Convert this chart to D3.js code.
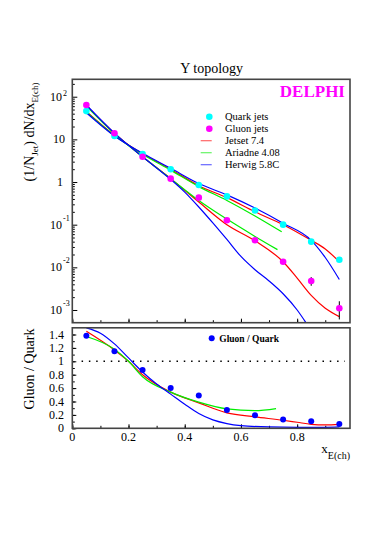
<!DOCTYPE html>
<html>
<head>
<meta charset="utf-8">
<script src="https://cdn.jsdelivr.net/npm/d3@7"></script>
<style>
body { margin: 0; background: #fff; }
text { font-family: "Liberation Serif", "Times New Roman", serif; fill: #000; }
</style>
</head>
<body>
<div id="chart"></div>
<script>
// measured points, bin centres in x_E(ch)
var xBins = [0.05, 0.15, 0.25, 0.35, 0.45, 0.55, 0.65, 0.75, 0.85, 0.95];
var quarkJets = [46, 12, 4.5, 2.0, 0.85, 0.46, 0.215, 0.1, 0.04, 0.015];
var gluonJets = [64, 13.9, 3.9, 1.2, 0.43, 0.127, 0.043, 0.0135, 0.0048, 0.0011];
var gluonErr = [0.5, 0.1, 0.04, 0.02, 0.01, 0.004, 0.002, 0.001, 0.0011, 0.0005];
var ratioGQ = [1.38, 1.15, 0.87, 0.6, 0.49, 0.275, 0.195, 0.13, 0.105, 0.065];

// model curves
var jetsetQuarkX = [0.05, 0.15, 0.25, 0.35, 0.45, 0.55, 0.65, 0.75, 0.85, 0.9, 0.95];
var jetsetQuarkY = [45, 12.5, 4.6, 2.0, 0.82, 0.43, 0.2, 0.1, 0.043, 0.027, 0.0135];
var ariadneQuarkX = [0.05, 0.15, 0.25, 0.35, 0.45, 0.55, 0.65, 0.745];
var ariadneQuarkY = [44, 12.3, 4.5, 1.9, 0.78, 0.37, 0.16, 0.068];
var herwigQuarkX = [0.05, 0.15, 0.25, 0.35, 0.45, 0.55, 0.65, 0.75, 0.85, 0.9, 0.95];
var herwigQuarkY = [42, 12, 4.7, 2.1, 0.92, 0.5, 0.245, 0.108, 0.043, 0.017, 0.0052];

var jetsetGluonX = [0.05, 0.15, 0.25, 0.35, 0.45, 0.55, 0.65, 0.75, 0.8, 0.85, 0.9, 0.95];
var jetsetGluonY = [62, 14, 3.9, 1.2, 0.34, 0.1, 0.042, 0.0135, 0.0056, 0.0022, 0.0011, 0.0007];
var ariadneGluonX = [0.05, 0.15, 0.25, 0.35, 0.45, 0.55, 0.65, 0.73];
var ariadneGluonY = [60, 13.5, 3.9, 1.2, 0.37, 0.135, 0.053, 0.026];
var herwigGluonX = [0.05, 0.15, 0.25, 0.35, 0.4, 0.45, 0.5, 0.55, 0.6, 0.65, 0.7, 0.75, 0.8, 0.83];
var herwigGluonY = [64, 14, 3.9, 1.15, 0.58, 0.26, 0.11, 0.045, 0.018, 0.0088, 0.0048, 0.0024, 0.001, 0.00052];

var jetsetRatioX = [0.05, 0.15, 0.2, 0.25, 0.35, 0.45, 0.55, 0.65, 0.75, 0.8, 0.85, 0.9, 0.95];
var jetsetRatioY = [1.45, 1.17, 1.0, 0.8, 0.54, 0.38, 0.23, 0.17, 0.12, 0.09, 0.06, 0.05, 0.06];
var ariadneRatioX = [0.05, 0.15, 0.2, 0.25, 0.35, 0.45, 0.55, 0.65, 0.725];
var ariadneRatioY = [1.37, 1.18, 1.0, 0.77, 0.54, 0.39, 0.29, 0.265, 0.295];
var herwigRatioX = [0.05, 0.1, 0.15, 0.2, 0.25, 0.3, 0.35, 0.4, 0.45, 0.5, 0.55, 0.6, 0.7, 0.8, 0.9, 0.95];
var herwigRatioY = [1.5, 1.42, 1.26, 1.05, 0.84, 0.66, 0.51, 0.36, 0.22, 0.125, 0.07, 0.04, 0.02, 0.015, 0.015, 0.02];

var xTicks = [0, 0.2, 0.4, 0.6, 0.8];
var ratioTicks = [0, 0.2, 0.4, 0.6, 0.8, 1, 1.2, 1.4];
var logDecades = [-3, -2, -1, 0, 1, 2];

var legendNames = ['Quark jets', 'Gluon jets', 'Jetset 7.4', 'Ariadne 4.08', 'Herwig 5.8C'];
var legendColors = ['#00ffff', '#ff00ff', '#ff0000', '#00ee00', '#0000ff'];

var width = 382, height = 544;
var left = 72.3, right = 350;
var topY0 = 79.3, topY1 = 322.7;
var botY0 = 327.8, botY1 = 428.3;

var svg = d3.select('#chart')
    .append('svg')
    .attr('width', width)
    .attr('height', height);

var x = d3.scaleLinear().domain([0, 0.988]).range([left, right]);
var yTop = d3.scaleLog().domain([Math.pow(10, -3.298), Math.pow(10, 2.408)]).range([topY1, topY0]);
var yBot = d3.scaleLinear().domain([0, 1.5]).range([botY1, botY0]);

// clip regions
var defs = svg.append('defs');
defs.append('clipPath').attr('id', 'clipTop').append('rect')
    .attr('x', left).attr('y', topY0).attr('width', right - left).attr('height', topY1 - topY0);
defs.append('clipPath').attr('id', 'clipBot').append('rect')
    .attr('x', left).attr('y', botY0).attr('width', right - left).attr('height', botY1 - botY0);

function noDomain(g) {
    g.select('.domain').remove();
    g.selectAll('line').attr('stroke', '#000');
}

// ---------- ticks (inward) ----------
var xMinor = d3.range(0, 10).map(function (i) { return i / 10; });
[topY1, botY1].forEach(function (yy) {
    svg.append('g').attr('transform', 'translate(0,' + yy + ')')
        .call(d3.axisBottom(x).tickValues(xMinor).tickSize(-2.5).tickFormat(''))
        .call(noDomain);
    svg.append('g').attr('transform', 'translate(0,' + yy + ')')
        .call(d3.axisBottom(x).tickValues(xTicks).tickSize(-4).tickFormat(''))
        .call(noDomain);
});

var logMinor = [];
logDecades.forEach(function (d) {
    for (var m = 2; m < 10; m++) {
        var v = m * Math.pow(10, d);
        if (v <= yTop.domain()[1]) logMinor.push(v);
    }
});
svg.append('g').attr('transform', 'translate(' + left + ',0)')
    .call(d3.axisLeft(yTop).tickValues(logMinor).tickSize(-2.5).tickFormat(''))
    .call(noDomain);
svg.append('g').attr('transform', 'translate(' + left + ',0)')
    .call(d3.axisLeft(yTop).tickValues(logDecades.map(function (d) { return Math.pow(10, d); })).tickSize(-5).tickFormat(''))
    .call(noDomain);

svg.append('g').attr('transform', 'translate(' + left + ',0)')
    .call(d3.axisLeft(yBot).tickValues(d3.range(0, 15).map(function (i) { return i / 10; })).tickSize(-2.5).tickFormat(''))
    .call(noDomain);
svg.append('g').attr('transform', 'translate(' + left + ',0)')
    .call(d3.axisLeft(yBot).tickValues(ratioTicks).tickSize(-4).tickFormat(''))
    .call(noDomain);

// ---------- tick labels ----------
logDecades.forEach(function (d) {
    var yy = yTop(Math.pow(10, d));
    if (d === 0) {
        svg.append('text').attr('x', 63).attr('y', yy + 4).attr('text-anchor', 'end')
            .style('font-size', '12px').text('1');
    } else if (d === 1) {
        svg.append('text').attr('x', 65).attr('y', yy + 4).attr('text-anchor', 'end')
            .style('font-size', '12px').text('10');
    } else {
        svg.append('text').attr('x', 62).attr('y', yy + 4).attr('text-anchor', 'end')
            .style('font-size', '12px').text('10');
        svg.append('text').attr('x', 63).attr('y', yy - (d > 0 ? 1 : 4)).attr('text-anchor', 'start')
            .style('font-size', '8px').text(d);
    }
});

xTicks.forEach(function (t) {
    svg.append('text').attr('x', x(t)).attr('y', 440.5).attr('text-anchor', 'middle')
        .style('font-size', '12px').text(t === 0 ? '0' : d3.format('.1f')(t));
});
ratioTicks.forEach(function (t) {
    svg.append('text').attr('x', 64).attr('y', yBot(t) + 4).attr('text-anchor', 'end')
        .style('font-size', '12px').text(t === 0 || t === 1 ? String(t) : d3.format('.1f')(t));
});

// ---------- titles ----------
svg.append('text').attr('x', 211.7).attr('y', 72.5).attr('text-anchor', 'middle')
    .style('font-size', '14px').text('Y topology');

var yt = svg.append('text')
    .attr('transform', 'translate(34,132) rotate(-90)')
    .attr('text-anchor', 'middle')
    .style('font-size', '14px');
yt.append('tspan').text('(1/N');
yt.append('tspan').attr('dy', 4).style('font-size', '9px').text('Jet');
yt.append('tspan').attr('dy', -4).text(') dN/dx');
yt.append('tspan').attr('dy', 4).style('font-size', '9px').text('E(ch)');

svg.append('text')
    .attr('transform', 'translate(34,369) rotate(-90)')
    .attr('text-anchor', 'middle')
    .style('font-size', '14px')
    .text('Gluon / Quark');

var xt = svg.append('text').attr('x', 350).attr('y', 452.5).attr('text-anchor', 'end')
    .style('font-size', '13px');
xt.append('tspan').text('x');
xt.append('tspan').attr('dy', 6).style('font-size', '10px').text('E(ch)');

svg.append('text').attr('x', 345).attr('y', 96.5).attr('text-anchor', 'end')
    .style('font-size', '17px').style('font-weight', 'bold').style('fill', '#ff00ff')
    .text('DELPHI');

// ---------- top panel curves ----------
function pairs(xs, ys) {
    return xs.map(function (v, i) { return [v, ys[i]]; });
}
var lineTop = d3.line()
    .x(function (d) { return x(d[0]); })
    .y(function (d) { return yTop(d[1]); })
    .curve(d3.curveMonotoneX);
var lineBot = d3.line()
    .x(function (d) { return x(d[0]); })
    .y(function (d) { return yBot(d[1]); })
    .curve(d3.curveMonotoneX);

var topCurves = [
    { xs: jetsetQuarkX, ys: jetsetQuarkY, c: '#ff0000' },
    { xs: jetsetGluonX, ys: jetsetGluonY, c: '#ff0000' },
    { xs: ariadneQuarkX, ys: ariadneQuarkY, c: '#00ee00' },
    { xs: ariadneGluonX, ys: ariadneGluonY, c: '#00ee00' },
    { xs: herwigQuarkX, ys: herwigQuarkY, c: '#0000ff' },
    { xs: herwigGluonX, ys: herwigGluonY, c: '#0000ff' }
];
var gTop = svg.append('g').attr('clip-path', 'url(#clipTop)');
gTop.selectAll('path.model')
    .data(topCurves)
    .enter()
    .append('path')
    .attr('class', 'model')
    .attr('d', function (d) { return lineTop(pairs(d.xs, d.ys)); })
    .attr('fill', 'none')
    .attr('stroke', function (d) { return d.c; })
    .attr('stroke-width', 1.2);

// error bars + points
gTop.selectAll('line.err')
    .data(xBins)
    .enter()
    .append('line')
    .attr('x1', function (d) { return x(d); })
    .attr('x2', function (d) { return x(d); })
    .attr('y1', function (d, i) { return yTop(gluonJets[i] + gluonErr[i]); })
    .attr('y2', function (d, i) { return yTop(gluonJets[i] - gluonErr[i]); })
    .attr('stroke', '#000')
    .attr('stroke-width', 1);

gTop.selectAll('circle.quark')
    .data(xBins)
    .enter()
    .append('circle')
    .attr('cx', function (d) { return x(d); })
    .attr('cy', function (d, i) { return yTop(quarkJets[i]); })
    .attr('r', 3.3)
    .attr('fill', '#00ffff');
gTop.selectAll('circle.gluon')
    .data(xBins)
    .enter()
    .append('circle')
    .attr('cx', function (d) { return x(d); })
    .attr('cy', function (d, i) { return yTop(gluonJets[i]); })
    .attr('r', 3.3)
    .attr('fill', '#ff00ff');

// legend
legendNames.forEach(function (name, i) {
    var ly = 116.7 + i * 12;
    if (i < 2) {
        svg.append('circle').attr('cx', 209.3).attr('cy', ly).attr('r', 3.3).attr('fill', legendColors[i]);
    } else {
        svg.append('line').attr('x1', 200.7).attr('x2', 211.7).attr('y1', ly).attr('y2', ly)
            .attr('stroke', legendColors[i]).attr('stroke-width', 1.2).attr('opacity', 0.6);
    }
    svg.append('text').attr('x', 225).attr('y', ly + 3.5).style('font-size', '10.5px').text(name);
});

// ---------- bottom panel ----------
var gBot = svg.append('g').attr('clip-path', 'url(#clipBot)');
gBot.append('line')
    .attr('x1', x(0.033)).attr('x2', x(0.97))
    .attr('y1', yBot(1)).attr('y2', yBot(1))
    .attr('stroke', '#000').attr('stroke-width', 1.5)
    .attr('stroke-dasharray', '1.5,5.8');

var botCurves = [
    { xs: jetsetRatioX, ys: jetsetRatioY, c: '#ff0000' },
    { xs: ariadneRatioX, ys: ariadneRatioY, c: '#00ee00' },
    { xs: herwigRatioX, ys: herwigRatioY, c: '#0000ff' }
];
gBot.selectAll('path.model')
    .data(botCurves)
    .enter()
    .append('path')
    .attr('d', function (d) { return lineBot(pairs(d.xs, d.ys)); })
    .attr('fill', 'none')
    .attr('stroke', function (d) { return d.c; })
    .attr('stroke-width', 1.2);

gBot.selectAll('circle.ratio')
    .data(xBins)
    .enter()
    .append('circle')
    .attr('cx', function (d) { return x(d); })
    .attr('cy', function (d, i) { return yBot(ratioGQ[i]); })
    .attr('r', 3)
    .attr('fill', '#0000ff');

svg.append('circle').attr('cx', 211.7).attr('cy', 338.3).attr('r', 3).attr('fill', '#0000ff');
svg.append('text').attr('x', 219.3).attr('y', 341.5).style('font-size', '9.5px')
    .style('font-weight', 'bold').text('Gluon / Quark');

// frames
[[topY0, topY1], [botY0, botY1]].forEach(function (p) {
    svg.append('rect')
        .attr('x', left).attr('y', p[0])
        .attr('width', right - left).attr('height', p[1] - p[0])
        .attr('fill', 'none').attr('stroke', '#444').attr('stroke-width', 1.6);
});
</script>
</body>
</html>
